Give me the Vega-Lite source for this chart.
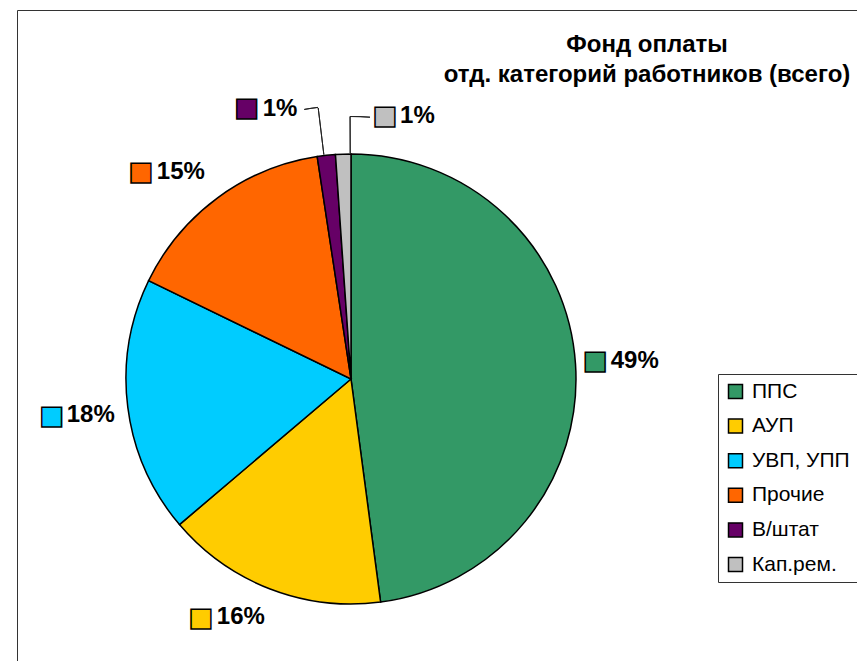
{
  "$schema": "https://vega.github.io/schema/vega-lite/v6.json",
  "width": 840,
  "height": 651,
  "autosize": {"type": "none"},
  "padding": {"left": 17, "top": 10, "right": 0, "bottom": 0},
  "background": "white",
  "title": {
    "text": ["Фонд оплаты", "отд. категорий работников (всего)"],
    "anchor": "middle", "frame": "group", "orient": "top", "offset": 0,
    "baseline": "top", "dx": 210, "dy": 77,
    "fontSize": 24, "fontWeight": "bold", "font": "Liberation Sans", "color": "#000", "lineHeight": 30
  },
  "data": {"values": [
    {"cat": "ППС", "share": 0.479, "label": "49%", "idx": 1},
    {"cat": "АУП", "share": 0.159, "label": "16%", "idx": 2},
    {"cat": "УВП, УПП", "share": 0.184, "label": "18%", "idx": 3},
    {"cat": "Прочие", "share": 0.154, "label": "15%", "idx": 4},
    {"cat": "В/штат", "share": 0.013, "label": "1%", "idx": 5},
    {"cat": "Кап.рем.", "share": 0.011, "label": "1%", "idx": 6}
  ]},
  "encoding": {
    "theta": {"field": "share", "type": "quantitative", "stack": true},
    "order": {"field": "idx", "type": "quantitative"},
    "x": {"value": 334},
    "y": {"value": 369}
  },
  "layer": [
    {
      "mark": {"type": "arc", "radius": 225, "stroke": "#000", "strokeWidth": 1.5},
      "encoding": {
        "color": {
          "field": "cat", "type": "nominal",
          "scale": {"domain": ["ППС", "АУП", "УВП, УПП", "Прочие", "В/штат", "Кап.рем."],
                    "range": ["#339966", "#FFCC00", "#00CCFF", "#FF6600", "#660066", "#C0C0C0"]},
          "legend": {
            "orient": "none", "legendX": 701, "legendY": 364, "title": null,
            "symbolType": "square", "symbolSize": 196, "symbolStrokeColor": "#000", "symbolStrokeWidth": 1.5,
            "labelFontSize": 21, "labelFont": "Liberation Sans", "labelColor": "#000",
            "rowPadding": 12.6, "padding": 7, "strokeColor": "#333", "labelOffset": 6
          }
        }
      }
    },
    {
      "transform": [{"stack": "share", "groupby": [], "sort": [{"field": "idx"}], "as": ["v0", "v1"]}],
      "encoding": {
        "theta": {"field": "v0", "type": "quantitative", "stack": null},
        "theta2": {"field": "v1"}
      },
      "layer": [
        {"mark": {"type": "arc", "filled": false, "stroke": "#222", "strokeWidth": 1, "radius": 273, "radius2": 226, "thetaOffset": 0.0304, "theta2Offset": -0.0513},
         "encoding": {"strokeOpacity": {"condition": {"test": "datum.cat === 'В/штат'", "value": 1}, "value": 0}}},
        {"mark": {"type": "arc", "filled": false, "stroke": "#222", "strokeWidth": 1, "radius": 273.6, "radius2": 273.6, "thetaOffset": -0.0209, "theta2Offset": -0.052},
         "encoding": {"strokeOpacity": {"condition": {"test": "datum.cat === 'В/штат'", "value": 1}, "value": 0}}},
        {"mark": {"type": "arc", "filled": false, "stroke": "#222", "strokeWidth": 1, "radius": 262.5, "radius2": 226, "thetaOffset": 0.0656, "theta2Offset": -0.0035},
         "encoding": {"strokeOpacity": {"condition": {"test": "datum.cat === 'Кап.рем.'", "value": 1}, "value": 0}}},
        {"mark": {"type": "arc", "filled": false, "stroke": "#222", "strokeWidth": 1, "radius": 262.5, "radius2": 262.5, "thetaOffset": 0.0656, "theta2Offset": 0.0724},
         "encoding": {"strokeOpacity": {"condition": {"test": "datum.cat === 'Кап.рем.'", "value": 1}, "value": 0}}}
      ]
    },
    {"mark": {"type": "text", "radius": 272, "dx": -27.1, "dy": -0.3, "font": "DejaVu Sans", "fontSize": 26, "align": "center", "baseline": "middle", "stroke": "#000", "strokeWidth": 1.5},
     "encoding": {"text": {"condition": {"test": "datum.cat === 'ППС'", "value": "■"}, "value": ""}, "color": {"field": "cat", "type": "nominal", "legend": null}}},
    {"mark": {"type": "text", "radius": 272, "dx": -11.7, "dy": 0.3, "font": "Liberation Sans", "fontSize": 24, "fontWeight": "bold", "align": "left", "baseline": "middle", "color": "#000"},
     "encoding": {"text": {"condition": {"test": "datum.cat === 'ППС'", "field": "label"}, "value": ""}}},
    {"mark": {"type": "text", "radius": 272, "dx": -52.3, "dy": -15.3, "font": "DejaVu Sans", "fontSize": 26, "align": "center", "baseline": "middle", "stroke": "#000", "strokeWidth": 1.5},
     "encoding": {"text": {"condition": {"test": "datum.cat === 'АУП'", "value": "■"}, "value": ""}, "color": {"field": "cat", "type": "nominal", "legend": null}}},
    {"mark": {"type": "text", "radius": 272, "dx": -36.4, "dy": -15.8, "font": "Liberation Sans", "fontSize": 24, "fontWeight": "bold", "align": "left", "baseline": "middle", "color": "#000"},
     "encoding": {"text": {"condition": {"test": "datum.cat === 'АУП'", "field": "label"}, "value": ""}}},
    {"mark": {"type": "text", "radius": 272, "dx": -29.4, "dy": 2.9, "font": "DejaVu Sans", "fontSize": 26, "align": "center", "baseline": "middle", "stroke": "#000", "strokeWidth": 1.5},
     "encoding": {"text": {"condition": {"test": "datum.cat === 'УВП, УПП'", "value": "■"}, "value": ""}, "color": {"field": "cat", "type": "nominal", "legend": null}}},
    {"mark": {"type": "text", "radius": 272, "dx": -14.4, "dy": 1.9, "font": "Liberation Sans", "fontSize": 24, "fontWeight": "bold", "align": "left", "baseline": "middle", "color": "#000"},
     "encoding": {"text": {"condition": {"test": "datum.cat === 'УВП, УПП'", "field": "label"}, "value": ""}}},
    {"mark": {"type": "text", "radius": 272, "dx": -48.8, "dy": 11.9, "font": "DejaVu Sans", "fontSize": 26, "align": "center", "baseline": "middle", "stroke": "#000", "strokeWidth": 1.5},
     "encoding": {"text": {"condition": {"test": "datum.cat === 'Прочие'", "value": "■"}, "value": ""}, "color": {"field": "cat", "type": "nominal", "legend": null}}},
    {"mark": {"type": "text", "radius": 272, "dx": -32.9, "dy": 11.9, "font": "Liberation Sans", "fontSize": 24, "fontWeight": "bold", "align": "left", "baseline": "middle", "color": "#000"},
     "encoding": {"text": {"condition": {"test": "datum.cat === 'Прочие'", "field": "label"}, "value": ""}}},
    {"mark": {"type": "text", "radius": 272, "dx": -74.4, "dy": -0.3, "font": "DejaVu Sans", "fontSize": 26, "align": "center", "baseline": "middle", "stroke": "#000", "strokeWidth": 1.5},
     "encoding": {"text": {"condition": {"test": "datum.cat === 'В/штат'", "value": "■"}, "value": ""}, "color": {"field": "cat", "type": "nominal", "legend": null}}},
    {"mark": {"type": "text", "radius": 272, "dx": -58.5, "dy": 0.4, "font": "Liberation Sans", "fontSize": 24, "fontWeight": "bold", "align": "left", "baseline": "middle", "color": "#000"},
     "encoding": {"text": {"condition": {"test": "datum.cat === 'В/штат'", "field": "label"}, "value": ""}}},
    {"mark": {"type": "text", "radius": 272, "dx": 43.5, "dy": 9.3, "font": "DejaVu Sans", "fontSize": 26, "align": "center", "baseline": "middle", "stroke": "#000", "strokeWidth": 1.5},
     "encoding": {"text": {"condition": {"test": "datum.cat === 'Кап.рем.'", "value": "■"}, "value": ""}, "color": {"field": "cat", "type": "nominal", "legend": null}}},
    {"mark": {"type": "text", "radius": 272, "dx": 58.5, "dy": 9.3, "font": "Liberation Sans", "fontSize": 24, "fontWeight": "bold", "align": "left", "baseline": "middle", "color": "#000"},
     "encoding": {"text": {"condition": {"test": "datum.cat === 'Кап.рем.'", "field": "label"}, "value": ""}}}
  ],
  "config": {"view": {"stroke": "#333", "strokeWidth": 1}}
}
